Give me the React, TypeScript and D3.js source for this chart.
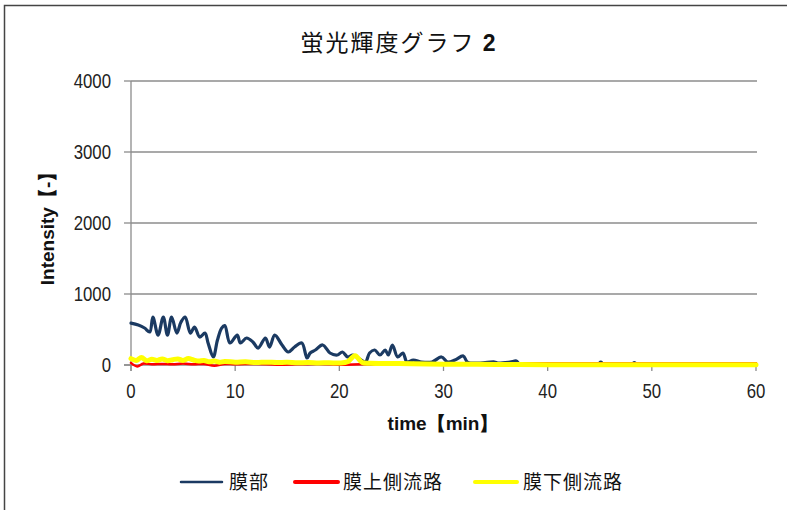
import React from "react";
import * as d3 from "d3";

const title = "蛍光輝度グラフ ";
const titleNum = "2";
const xTicks = [0, 10, 20, 30, 40, 50, 60];
const yTicks = [0, 1000, 2000, 3000, 4000];
const seriesNames = ["膜部", "膜上側流路", "膜下側流路"];
const seriesColors = ["#1B3A62", "#FF0000", "#FFFF00"];

// 膜部
const blueT = [0, 0.7, 1.3, 1.8, 2.1, 2.6, 3.1, 3.5, 3.9, 4.4, 4.8, 5.2, 5.7, 6.1, 6.6, 7.1, 7.4, 7.9, 8.3, 8.7, 9.0, 9.5, 10.2, 10.5, 11.1, 11.7, 12.2, 12.9, 13.3, 13.8, 14.5, 15.1, 15.7, 16.4, 16.9, 17.2, 17.7, 18.4, 19.1, 19.8, 20.3, 20.8, 21.3, 21.8, 22.5, 22.9, 23.4, 23.9, 24.4, 24.7, 25.1, 25.6, 26.1, 26.5, 27.1, 27.9, 28.9, 29.8, 30.4, 31.1, 31.9, 32.3, 33.5, 34.9, 35.2, 36.4, 37.0, 37.3, 39.3, 42.0, 44.8, 45.1, 45.4, 48.1, 48.3, 48.6, 52.0, 56.0, 60.0];
const blueV = [590, 563, 521, 465, 676, 422, 676, 422, 676, 450, 605, 676, 450, 535, 394, 450, 310, 113, 352, 520, 555, 310, 422, 310, 380, 324, 239, 380, 253, 422, 282, 183, 253, 310, 99, 169, 211, 282, 169, 141, 183, 113, 141, 99, 42, 169, 211, 141, 211, 141, 282, 113, 169, 42, 70, 42, 42, 113, 42, 70, 127, 42, 28, 42, 28, 42, 56, 14, 10, 10, 10, 40, 10, 10, 35, 10, 10, 10, 10];

// 膜上側流路
const redT = [0, 0.6, 1.2, 2, 3, 4, 5, 6, 7, 8, 9, 10, 12, 14, 16, 18, 20, 22, 24, 26, 28, 30, 35, 40, 45, 50, 55, 60];
const redV = [30, -20, 20, 10, 15, 10, 20, 10, 15, -10, 15, 10, 15, 5, 10, 15, 5, 10, 15, 10, 15, 20, 25, 25, 25, 25, 25, 25];

// 膜下側流路
const yellowT = [0, 0.5, 1, 1.5, 2, 2.5, 3, 3.5, 4, 4.5, 5, 5.5, 6, 6.5, 7, 7.5, 8, 8.5, 9, 10, 11, 12, 13, 14, 15, 16, 17, 18, 19, 20, 20.8, 21.5, 22.2, 23, 25, 27, 30, 35, 40, 45, 50, 55, 60];
const yellowV = [90, 65, 105, 60, 80, 65, 85, 60, 75, 85, 65, 90, 70, 55, 65, 45, 55, 40, 50, 40, 45, 35, 40, 35, 38, 30, 35, 28, 32, 28, 45, 130, 35, 25, 22, 18, 12, 8, 5, 5, 5, 5, 5];

const W = 787;
const H = 510;
const left = 131;
const right = 756;
const top = 81;
const bottom = 365;

export default function App() {
  const x = d3.scaleLinear().domain([0, 60]).range([left, right]);
  const y = d3.scaleLinear().domain([0, 4000]).range([bottom, top]);
  const line = d3
    .line<[number, number]>()
    .x((d) => x(d[0]))
    .y((d) => y(d[1]))
    .curve(d3.curveCatmullRom.alpha(0.5));

  const mk = (t: number[], v: number[]) => t.map((tt, i) => [tt, v[i]] as [number, number]);
  const series = [
    { data: mk(blueT, blueV), w: 3.2 },
    { data: mk(redT, redV), w: 2.5 },
    { data: mk(yellowT, yellowV), w: 5 },
  ];

  const legendItems = [
    { x1: 181, x2: 222, tx: 229, w: 2.5 },
    { x1: 295, x2: 338, tx: 343, w: 4 },
    { x1: 475, x2: 517, tx: 523, w: 4 },
  ];

  const font = "Arial, 'Liberation Sans', sans-serif";
  const jfont = "'Noto Sans CJK JP', sans-serif";
  const sx = 0.84;

  return (
    <svg
      width={W}
      height={H}
      style={{ position: "absolute", left: 0, top: 0, background: "#fff" }}
    >
      <rect x={4.5} y={5.5} width={W + 10} height={H + 10} fill="#fff" stroke="#444" strokeWidth={1.5} />
      <text x={398} y={51} textAnchor="middle" fontFamily={jfont} fontSize={23} letterSpacing={2} fill="#111">
        {title}
        <tspan fontFamily={font} fontWeight="bold" fontSize={23} letterSpacing={0}>{titleNum}</tspan>
      </text>

      {yTicks.map((t) => (
        <g key={"y" + t}>
          {t > 0 && (
            <line x1={left} x2={right + 1} y1={y(t)} y2={y(t)} stroke="#8c8c8c" strokeWidth={1.3} />
          )}
          <line x1={left - 7} x2={left} y1={y(t)} y2={y(t)} stroke="#8c8c8c" strokeWidth={1.3} />
          <text
            transform={`translate(111, ${y(t) + 7}) scale(${sx}, 1)`}
            textAnchor="end"
            fontFamily={font}
            fontSize={20}
            fill="#222"
          >
            {t}
          </text>
        </g>
      ))}
      {xTicks.map((t) => (
        <g key={"x" + t}>
          <line x1={x(t)} x2={x(t)} y1={bottom} y2={bottom + 6} stroke="#8c8c8c" strokeWidth={1.3} />
          <text
            transform={`translate(${x(t)}, 398) scale(${sx}, 1)`}
            textAnchor="middle"
            fontFamily={font}
            fontSize={20}
            fill="#222"
          >
            {t}
          </text>
        </g>
      ))}
      <line x1={left} x2={left} y1={top} y2={bottom + 6} stroke="#8c8c8c" strokeWidth={1.3} />
      <line x1={left - 7} x2={right + 1} y1={bottom} y2={bottom} stroke="#8c8c8c" strokeWidth={1.3} />

      {series.map((s, i) => (
        <path
          key={i}
          d={line(s.data) || ""}
          fill="none"
          stroke={seriesColors[i]}
          strokeWidth={s.w}
          strokeLinejoin="round"
          strokeLinecap="round"
        />
      ))}

      <text x={443} y={430} textAnchor="middle" fontFamily={font} fontWeight="bold" fontSize={19} fill="#111">
        time【min】
      </text>
      <text
        transform={`translate(54, 224) rotate(-90)`}
        textAnchor="middle"
        fontFamily={font}
        fontWeight="bold"
        fontSize={19}
        fill="#111"
      >
        Intensity【-】
      </text>

      {legendItems.map((l, i) => (
        <g key={"l" + i}>
          <line x1={l.x1} x2={l.x2} y1={482} y2={482} stroke={seriesColors[i]} strokeWidth={l.w} strokeLinecap="round" />
          <text x={l.tx} y={489} fontFamily={jfont} fontSize={19} letterSpacing={1} fill="#111">
            {seriesNames[i]}
          </text>
        </g>
      ))}
    </svg>
  );
}
